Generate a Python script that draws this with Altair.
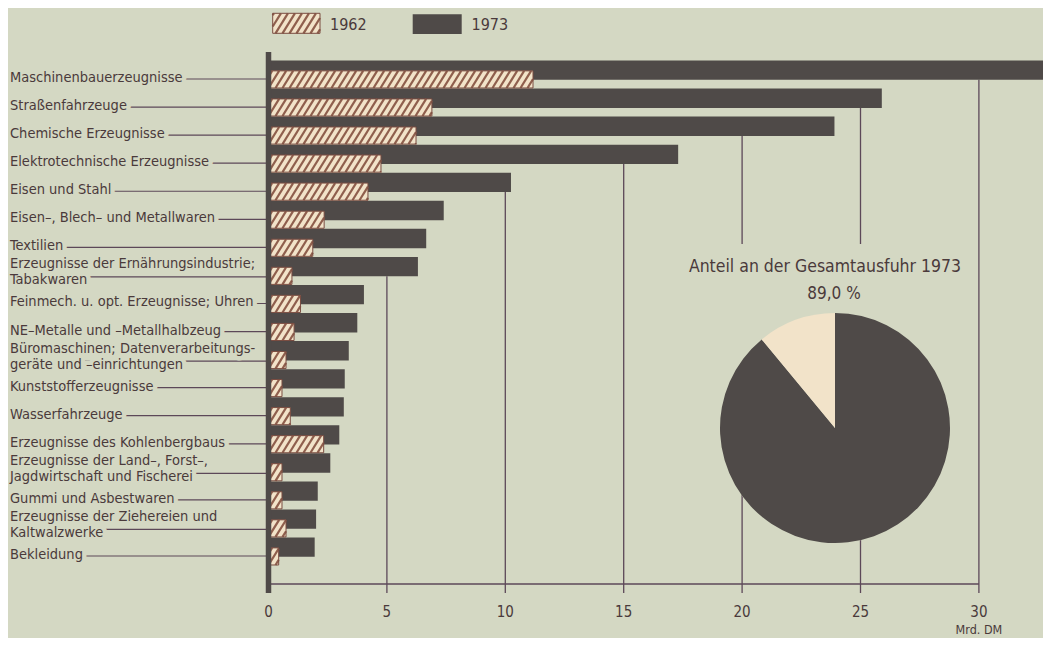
import math
import altair as alt
import pandas as pd
import numpy as np

# ---------------- data ----------------
categories = [
    "Maschinenbauerzeugnisse",
    "Straßenfahrzeuge",
    "Chemische Erzeugnisse",
    "Elektrotechnische Erzeugnisse",
    "Eisen und Stahl",
    "Eisen–, Blech– und Metallwaren",
    "Textilien",
    "Erzeugnisse der Ernährungsindustrie;\nTabakwaren",
    "Feinmech. u. opt. Erzeugnisse; Uhren",
    "NE–Metalle und –Metallhalbzeug",
    "Büromaschinen; Datenverarbeitungs-\ngeräte und –einrichtungen",
    "Kunststofferzeugnisse",
    "Wasserfahrzeuge",
    "Erzeugnisse des Kohlenbergbaus",
    "Erzeugnisse der Land–, Forst–,\nJagdwirtschaft und Fischerei",
    "Gummi und Asbestwaren",
    "Erzeugnisse der Ziehereien und\nKaltwalzwerke",
    "Bekleidung",
]
v1962 = [11.17, 6.90, 6.23, 4.75, 4.20, 2.35, 1.87, 0.99, 1.35, 1.08,
         0.74, 0.57, 0.92, 2.33, 0.57, 0.57, 0.74, 0.43]
v1973 = [35.5, 25.9, 23.9, 17.3, 10.24, 7.40, 6.66, 6.31, 4.03, 3.75,
         3.39, 3.22, 3.18, 2.99, 2.61, 2.08, 2.01, 1.95]
series_names = ["1962", "1973"]
pie_parts = ["Aufgeführte Gruppen", "Übrige"]
pie_share = [89.0, 11.0]
pie_title = "Anteil an der Gesamtausfuhr 1973"
pie_label = "89,0 %"
tick_values = [0, 5, 10, 15, 20, 25, 30]
unit_label = "Mrd. DM"

# ---------------- style / layout ----------------
BG = "#d4d8c3"
DARK = "#4f4a48"
CREAM = "#f2e3c9"
HATCH = "#8f5f4d"
OUTLINE = "#7a4c40"
LINE = "#5c4858"
TEXT = "#4a3a3b"
FONT = "Liberation Sans Narrow, DejaVu Sans Condensed, sans-serif"

PX0 = 268.5      # page x of value 0
PY_TOP = 52.0    # page y of plot top
PY_AXIS = 584.0  # page y of x axis
ROW0 = 79.0      # page y of first row centre
ROW_STEP = 28.06
PXU = 23.68      # pixels per Mrd. DM
TOTAL_W, TOTAL_H = 1035, 630
PAD_L = PX0 - 8
PAD_T = PY_TOP - 8
W = TOTAL_W - PAD_L
H = PY_AXIS - PY_TOP
PAD_B = TOTAL_H - PAD_T - H
XMAX = W / PXU
YMIN = (PY_TOP - ROW0) / ROW_STEP
YMAX = (PY_AXIS - ROW0) / ROW_STEP


def xd(px):
    return (px - PX0) / PXU


def yd(py):
    return (py - ROW0) / ROW_STEP


XS = alt.Scale(domain=[0, XMAX], nice=False, zero=False)
YS = alt.Scale(domain=[YMIN, YMAX], nice=False, zero=False, reverse=True)


def X(f):
    return alt.X(f, type="quantitative", scale=XS, axis=None)


def Y(f):
    return alt.Y(f, type="quantitative", scale=YS, axis=None)


DARK_T, DARK_B = -0.66, 0.03
HAT_T, HAT_B = -0.29, 0.32

n = len(categories)
bars = pd.DataFrame({"cat": categories, "r": list(range(n)), "v62": v1962, "v73": v1973})
bars["x0"] = 0.0
bars["d_top"] = bars["r"] + DARK_T
bars["d_bot"] = bars["r"] + DARK_B
bars["h_top"] = bars["r"] + HAT_T
bars["h_bot"] = bars["r"] + HAT_B

# hatch stripes (computed in page px, converted to data units)
S = 7.0
D_RATIO = 0.62


def hatch(x0, x1, ytop, ybot):
    h = ybot - ytop
    d = h * D_RATIO
    out = []
    k0 = int(math.floor((x0 - d - PX0) / S)) - 1
    k1 = int(math.ceil((x1 - PX0) / S)) + 1
    for k in range(k0, k1 + 1):
        xb = PX0 + k * S
        t_lo = max(0.0, (x0 - xb) / d)
        t_hi = min(1.0, (x1 - xb) / d)
        if t_hi - t_lo > 0.02:
            out.append({
                "x": xd(xb + t_lo * d), "x2": xd(xb + t_hi * d),
                "y": yd(ybot - t_lo * h), "y2": yd(ybot - t_hi * h),
            })
    return out


stripes = []
for r, v in zip(range(n), v1962):
    ytop = ROW0 + (r + HAT_T) * ROW_STEP
    ybot = ROW0 + (r + HAT_B) * ROW_STEP
    stripes += hatch(PX0, PX0 + v * PXU, ytop, ybot)

# legend swatches (page px)
LEG_H = (272.7, 320.0, 13.3, 33.3)
LEG_D = (412.7, 461.7, 14.3, 34.0)
stripes += hatch(*LEG_H)
stripes_df = pd.DataFrame(stripes)

legend_rects = pd.DataFrame({
    "name": series_names,
    "x": [xd(LEG_H[0]), xd(LEG_D[0])], "x2": [xd(LEG_H[1]), xd(LEG_D[1])],
    "y": [yd(LEG_H[2]), yd(LEG_D[2])], "y2": [yd(LEG_H[3]), yd(LEG_D[3])],
    "fill": [CREAM, DARK],
})
legend_text = pd.DataFrame({
    "name": series_names,
    "x": [xd(330.0), xd(471.5)], "y": [yd(24.5), yd(24.5)],
})

# gridlines: from lowest bar that covers the tick down through the axis (tick)
TICK_BOTTOM = yd(593.0)
grid_rows = []
for t in tick_values[1:]:
    tops = [r + DARK_B for r, v in zip(range(n), v1973) if v >= t]
    tops += [r + HAT_B for r, v in zip(range(n), v1962) if v >= t]
    grid_rows.append({"t": t, "top": max(tops) if tops else YMIN, "bot": TICK_BOTTOM})
grid_df = pd.DataFrame(grid_rows)

tick_df = pd.DataFrame({"t": tick_values, "lab": [str(t) for t in tick_values],
                        "y": [yd(612.0)] * len(tick_values)})
unit_df = pd.DataFrame({"t": [tick_values[-1]], "lab": [unit_label], "y": [yd(630.0)]})

# labels, leader lines
LABEL_PX = 10.0
lab_rows, lead_rows = [], []
for i, c in enumerate(categories):
    parts = c.split("\n")
    offs = [-1.0] if len(parts) == 1 else [-11.0, 5.0]
    for p, o in zip(parts, offs):
        lab_rows.append({"txt": p, "x": xd(LABEL_PX), "y": i + o / ROW_STEP})
    lead_rows.append({"x": xd(LABEL_PX + 2), "x2": 0.0,
                      "y": i + (0.0 if len(parts) == 1 else 1.5 / ROW_STEP)})
lab_df = pd.DataFrame(lab_rows)
lead_df = pd.DataFrame(lead_rows)

axis_df = pd.DataFrame({"x": [0.0], "x2": [float(tick_values[-1])], "y": [YMAX]})
left_axis_df = pd.DataFrame({"x": [0.0], "y": [YMIN], "y2": [TICK_BOTTOM]})

# pie placement (page px -> data units)
PCX, PCY, PR = 835.0, 428.0, 115.0
pie_pos = pd.DataFrame({"x": [xd(PCX)], "y": [yd(PCY)]})
title_mask_df = pd.DataFrame({"x": [xd(686)], "x2": [xd(966)], "y": [yd(244)], "y2": [yd(420)]})
pie_text_df = pd.DataFrame({"txt": [pie_title, pie_label],
                            "x": [xd(825), xd(834)], "y": [yd(267), yd(294)],
                            "fs": [17.5, 17]})

# ---------------- layers ----------------
grid = alt.Chart(grid_df).mark_rule(color=LINE, strokeWidth=1.3).encode(
    x=X("t"), y=Y("top"), y2="bot")

tick_labels = alt.Chart(tick_df).mark_text(
    font=FONT, fontSize=15, color=TEXT, align="center", baseline="middle").encode(
    x=X("t"), y=Y("y"), text="lab:N")

unit_text = alt.Chart(unit_df).mark_text(
    font=FONT, fontSize=12.5, color=TEXT, align="center", baseline="middle").encode(
    x=X("t"), y=Y("y"), text="lab:N")

xaxis_line = alt.Chart(axis_df).mark_rule(color=LINE, strokeWidth=1.3).encode(
    x=X("x"), x2="x2", y=Y("y"))

leaders = alt.Chart(lead_df).mark_rule(color=LINE, strokeWidth=1.2).encode(
    x=X("x"), x2="x2", y=Y("y"))

halo = alt.Chart(lab_df).mark_text(
    align="left", baseline="middle", font=FONT, fontSize=14.5, fill=BG,
    stroke=BG, strokeWidth=9, strokeJoin="round").encode(
    x=X("x"), y=Y("y"), text="txt:N")

labels = alt.Chart(lab_df).mark_text(
    align="left", baseline="middle", font=FONT, fontSize=14.5, color=TEXT).encode(
    x=X("x"), y=Y("y"), text="txt:N")

left_axis = alt.Chart(left_axis_df).mark_rule(color=DARK, strokeWidth=5.5).encode(
    x=X("x"), y=Y("y"), y2="y2")

dark = alt.Chart(bars).mark_rect(color=DARK, clip=True).encode(
    x=X("x0"), x2="v73", y=Y("d_top"), y2="d_bot")

hat_fill = alt.Chart(bars).mark_rect(color=CREAM).encode(
    x=X("x0"), x2="v62", y=Y("h_top"), y2="h_bot")

hat_lines = alt.Chart(stripes_df).mark_rule(color=HATCH, strokeWidth=2.2, strokeCap="butt").encode(
    x=X("x"), x2="x2", y=Y("y"), y2="y2")

hat_outline = alt.Chart(bars).mark_rect(fillOpacity=0, stroke=OUTLINE, strokeWidth=1).encode(
    x=X("x0"), x2="v62", y=Y("h_top"), y2="h_bot")

pie_mask = alt.Chart(pie_pos).mark_circle(color=BG, opacity=1, size=math.pi * 130 ** 2).encode(
    x=X("x"), y=Y("y"))

title_mask = alt.Chart(title_mask_df).mark_rect(color=BG).encode(
    x=X("x"), x2="x2", y=Y("y"), y2="y2")

pie_df = pd.DataFrame({"part": pie_parts, "share": pie_share, "ord": [0, 1],
                       "x": [xd(PCX)] * 2, "y": [yd(PCY)] * 2})
pie = alt.Chart(pie_df).mark_arc(outerRadius=PR).encode(
    theta=alt.Theta("share:Q", stack=True),
    color=alt.Color("part:N", scale=alt.Scale(domain=pie_parts, range=[DARK, CREAM]), legend=None),
    order=alt.Order("ord:Q"),
    x=X("x"), y=Y("y"))

pie_texts = alt.Chart(pie_text_df).mark_text(
    font=FONT, color=TEXT, align="center", baseline="middle").encode(
    x=X("x"), y=Y("y"), text="txt:N", size=alt.Size("fs:Q", scale=None))

leg_fill = alt.Chart(legend_rects).mark_rect().encode(
    x=X("x"), x2="x2", y=Y("y"), y2="y2",
    fill=alt.Fill("fill:N", scale=None))
leg_outline = alt.Chart(legend_rects.iloc[[0]]).mark_rect(
    fillOpacity=0, stroke=OUTLINE, strokeWidth=1).encode(
    x=X("x"), x2="x2", y=Y("y"), y2="y2")
leg_text = alt.Chart(legend_text).mark_text(
    font=FONT, fontSize=16, color=TEXT, align="left", baseline="middle").encode(
    x=X("x"), y=Y("y"), text="name:N")

chart = alt.layer(
    grid, xaxis_line, tick_labels, unit_text, pie_mask, title_mask,
    leaders, halo, labels,
    dark, hat_fill, leg_fill, hat_lines, hat_outline, leg_outline, left_axis,
    leg_text, pie, pie_texts,
).resolve_scale(color="independent", fill="independent").properties(
    width=W, height=H,
    padding={"left": PAD_L, "top": PAD_T, "right": 0, "bottom": PAD_B},
    autosize=alt.AutoSizeParams(type="none"),
    background=BG,
).configure_view(strokeWidth=0)

chart.save("out.html", embed_options={"renderer": "svg", "actions": False})
